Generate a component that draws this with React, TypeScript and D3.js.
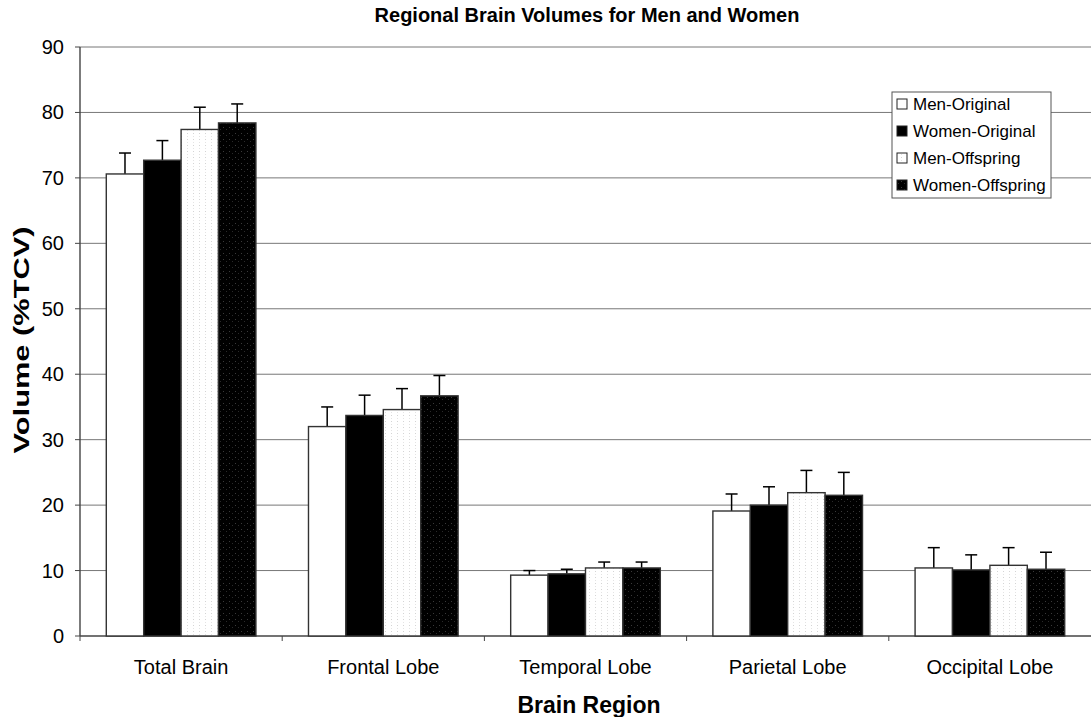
import React from "react";
import * as d3 from "d3";

const categories = ["Total Brain", "Frontal Lobe", "Temporal Lobe", "Parietal Lobe", "Occipital Lobe"];
const seriesNames = ["Men-Original", "Women-Original", "Men-Offspring", "Women-Offspring"];
const menOriginal = [70.6, 32.0, 9.3, 19.1, 10.4];
const womenOriginal = [72.7, 33.7, 9.5, 20.0, 10.1];
const menOffspring = [77.4, 34.6, 10.4, 21.9, 10.8];
const womenOffspring = [78.4, 36.7, 10.4, 21.5, 10.2];
const menOriginalErr = [3.2, 3.0, 0.7, 2.6, 3.1];
const womenOriginalErr = [3.0, 3.1, 0.7, 2.8, 2.3];
const menOffspringErr = [3.4, 3.2, 0.9, 3.4, 2.7];
const womenOffspringErr = [2.9, 3.1, 0.9, 3.5, 2.6];
const yTicks = [0, 10, 20, 30, 40, 50, 60, 70, 80, 90];

const seriesValues = [menOriginal, womenOriginal, menOffspring, womenOffspring];
const seriesErrs = [menOriginalErr, womenOriginalErr, menOffspringErr, womenOffspringErr];
const fills = ["#ffffff", "#000000", "url(#patLight)", "url(#patDark)"];

export default function App() {
  const W = 1091, H = 717;
  const left = 80, right = 1091, top = 47, bottom = 636;
  const x = d3.scaleBand<string>().domain(categories).range([left, right]).paddingInner(0).paddingOuter(0);
  const y = d3.scaleLinear().domain([0, 90]).range([bottom, top]);
  const groupW = x.bandwidth() * 0.74;
  const xs = d3.scaleBand<number>().domain([0, 1, 2, 3]).range([0, groupW]);
  const font = "'Liberation Sans', Arial, Helvetica, sans-serif";

  return (
    <svg width={W} height={H} style={{ position: "absolute", left: 0, top: 0, background: "#fff" }} fontFamily={font}>
      <defs>
        <pattern id="patLight" width="6" height="6" patternUnits="userSpaceOnUse">
          <rect width="6" height="6" fill="#ffffff" />
          <rect x="1" y="1" width="1" height="1" fill="#d4d4d4" />
          <rect x="1" y="4" width="1" height="1" fill="#e4e4e4" />
        </pattern>
        <pattern id="patDark" width="6" height="6" patternUnits="userSpaceOnUse">
          <rect width="6" height="6" fill="#000000" />
          <rect x="1" y="1" width="1" height="1" fill="#3a3a3a" />
          <rect x="4" y="3" width="1" height="1" fill="#2a2a2a" />
        </pattern>
      </defs>
      <rect x={0} y={0} width={W} height={H} fill="#fff" />
      <text x={587} y={22} textAnchor="middle" fontWeight="bold" fontSize={20} fill="#000">
        Regional Brain Volumes for Men and Women
      </text>
      {/* grid */}
      {yTicks.map((t) => (
        <line key={"g" + t} x1={left} x2={right} y1={y(t)} y2={y(t)} stroke={t === 0 ? "#444" : "#777"} strokeWidth={t === 0 ? 1.6 : 1} />
      ))}
      {/* y axis */}
      <line x1={left} x2={left} y1={top} y2={bottom} stroke="#444" strokeWidth={1.4} />
      {yTicks.map((t) => (
        <g key={"t" + t}>
          <line x1={left - 5} x2={left} y1={y(t)} y2={y(t)} stroke="#444" />
          <text x={64} y={y(t) + 7} textAnchor="end" fontSize={20} fill="#000">{t}</text>
        </g>
      ))}
      {/* x ticks */}
      {categories.map((c) => (
        <line key={"xt" + c} x1={x(c)!} x2={x(c)!} y1={bottom} y2={bottom + 5} stroke="#444" />
      ))}
      {/* bars */}
      {categories.map((c, ci) => {
        const gx = x(c)! + (x.bandwidth() - groupW) / 2;
        return (
          <g key={c}>
            {seriesValues.map((vals, si) => {
              const bx = gx + xs(si)!;
              const bw = xs.bandwidth();
              const v = vals[ci];
              const e = v + seriesErrs[si][ci];
              const cx = bx + bw / 2;
              return (
                <g key={si}>
                  <line x1={cx} x2={cx} y1={y(v)} y2={y(e)} stroke="#000" strokeWidth={1.5} />
                  <line x1={cx - 6} x2={cx + 6} y1={y(e)} y2={y(e)} stroke="#000" strokeWidth={1.5} />
                  <rect x={bx} y={y(v)} width={bw} height={y(0) - y(v)} fill={fills[si]} stroke="#333" strokeWidth={1.4} />
                </g>
              );
            })}
          </g>
        );
      })}
      {/* x labels */}
      {categories.map((c) => (
        <text key={"xl" + c} x={x(c)! + x.bandwidth() / 2} y={674} textAnchor="middle" fontSize={20} fill="#000">{c}</text>
      ))}
      <text x={589} y={713} textAnchor="middle" fontWeight="bold" fontSize={23} fill="#000">Brain Region</text>
      <text transform={`translate(29,340) rotate(-90) scale(1.4,1)`} textAnchor="middle" fontWeight="bold" fontSize={22} fill="#000">
        Volume (%TCV)
      </text>
      {/* legend */}
      <g>
        <rect x={892} y={92} width={159} height={106} fill="#fff" stroke="#555" strokeWidth={1} />
        {seriesNames.map((n, i) => (
          <g key={n}>
            <rect x={897} y={99 + i * 27} width={10} height={10} fill={fills[i]} stroke="#222" strokeWidth={1} />
            <text x={913} y={110 + i * 27} fontSize={17} fill="#000">{n}</text>
          </g>
        ))}
      </g>
    </svg>
  );
}
